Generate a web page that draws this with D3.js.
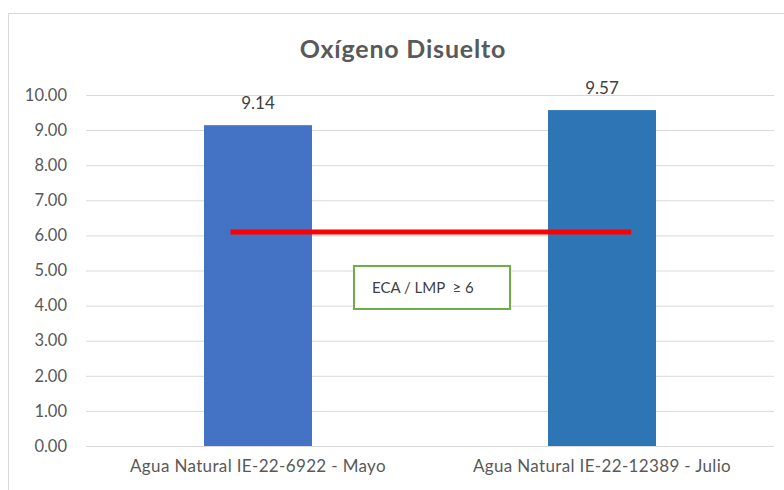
<!DOCTYPE html>
<html>
<head>
<meta charset="utf-8">
<script src="https://cdn.jsdelivr.net/npm/d3@7"></script>
<style>
    body { margin: 0; background: #fff; }
    svg { display: block; font-family: Lato, "Open Sans", sans-serif; }
</style>
</head>
<body>
<div id="chart"></div>
<script>
// values
const categories = ['Agua Natural IE-22-6922 - Mayo', 'Agua Natural IE-22-12389 - Julio'];
const values = [9.14, 9.57];
const barColors = ['#4472C4', '#2E75B6'];
const yTicks = [0, 1, 2, 3, 4, 5, 6, 7, 8, 9, 10];
const limitValue = 6.1;            // red reference line as drawn
const limitSpan = [0.42, 1.585];   // where the line starts/ends, in category units
const limitLabel = 'ECA / LMP  \u2265 6';
const title = 'Oxígeno Disuelto';

const W = 784, H = 490;
const margin = { top: 95, right: 10, bottom: 44, left: 86 };
const width = 774 - margin.left;
const height = 446 - margin.top;

const svg = d3.select('#chart')
    .append('svg')
    .attr('width', W)
    .attr('height', H);

// chart frame
svg.append('rect')
    .attr('x', 8.5).attr('y', 13.5)
    .attr('width', W + 10).attr('height', H + 10)
    .attr('fill', '#fff')
    .attr('stroke', '#d9d9d9');

svg.append('text')
    .attr('x', 403).attr('y', 58)
    .attr('text-anchor', 'middle')
    .attr('fill', '#595959')
    .style('font-size', '25px')
    .style('letter-spacing', '0.8px')
    .style('font-weight', 'bold')
    .text(title);

const g = svg.append('g')
    .attr('transform', `translate(${margin.left},${margin.top})`);

const x = d3.scaleBand()
    .domain(categories)
    .range([0, width])
    .paddingInner(0.686)
    .paddingOuter(0.343);

const xc = d3.scaleLinear()
    .domain([0, 2])
    .range([0, width]);

const y = d3.scaleLinear()
    .domain([0, 10])
    .range([height, 0]);

// gridlines + labels
const yAxis = g.append('g')
    .call(d3.axisLeft(y).tickValues(yTicks).tickFormat(d3.format('.2f')).tickSize(-width).tickPadding(19));
yAxis.select('.domain').remove();
yAxis.selectAll('.tick line').attr('stroke', '#d9d9d9').attr('stroke-width', 1);
yAxis.selectAll('.tick text')
    .attr('fill', '#595959')
    .style('font-size', '16.5px')
    .style('font-family', 'Lato, "Open Sans", sans-serif');

const xAxis = g.append('g')
    .attr('transform', `translate(0,${height})`)
    .call(d3.axisBottom(x).tickSize(0).tickPadding(14));
xAxis.select('.domain').remove();
xAxis.selectAll('.tick text')
    .attr('fill', '#595959')
    .style('font-size', '17px')
    .style('letter-spacing', '0.35px')
    .style('font-family', 'Lato, "Open Sans", sans-serif');

g.selectAll('.bar')
    .data(values)
    .enter()
    .append('rect')
    .attr('class', 'bar')
    .attr('x', (d, i) => x(categories[i]))
    .attr('y', d => y(d))
    .attr('width', x.bandwidth())
    .attr('height', d => height - y(d))
    .attr('fill', (d, i) => barColors[i]);

g.selectAll('.bar-label')
    .data(values)
    .enter()
    .append('text')
    .attr('class', 'bar-label')
    .attr('x', (d, i) => x(categories[i]) + x.bandwidth() / 2)
    .attr('y', d => y(d) - 16)
    .attr('text-anchor', 'middle')
    .attr('fill', '#404040')
    .style('font-size', '17px')
    .text(d => d.toFixed(2));

// limit line
g.append('line')
    .attr('x1', xc(limitSpan[0]))
    .attr('x2', xc(limitSpan[1]))
    .attr('y1', y(limitValue))
    .attr('y2', y(limitValue))
    .attr('stroke', '#FF0000')
    .attr('stroke-width', 5);

// limit callout box
const box = g.append('g')
    .attr('transform', `translate(${354 - margin.left},${266 - margin.top})`);
box.append('rect')
    .attr('width', 156).attr('height', 43)
    .attr('fill', '#fff')
    .attr('stroke', '#70AD47')
    .attr('stroke-width', 2);
box.append('text')
    .attr('x', 18).attr('y', 27)
    .attr('fill', '#404040')
    .style('font-size', '15px')
    .style('white-space', 'pre')
    .text(limitLabel);
</script>
</body>
</html>
